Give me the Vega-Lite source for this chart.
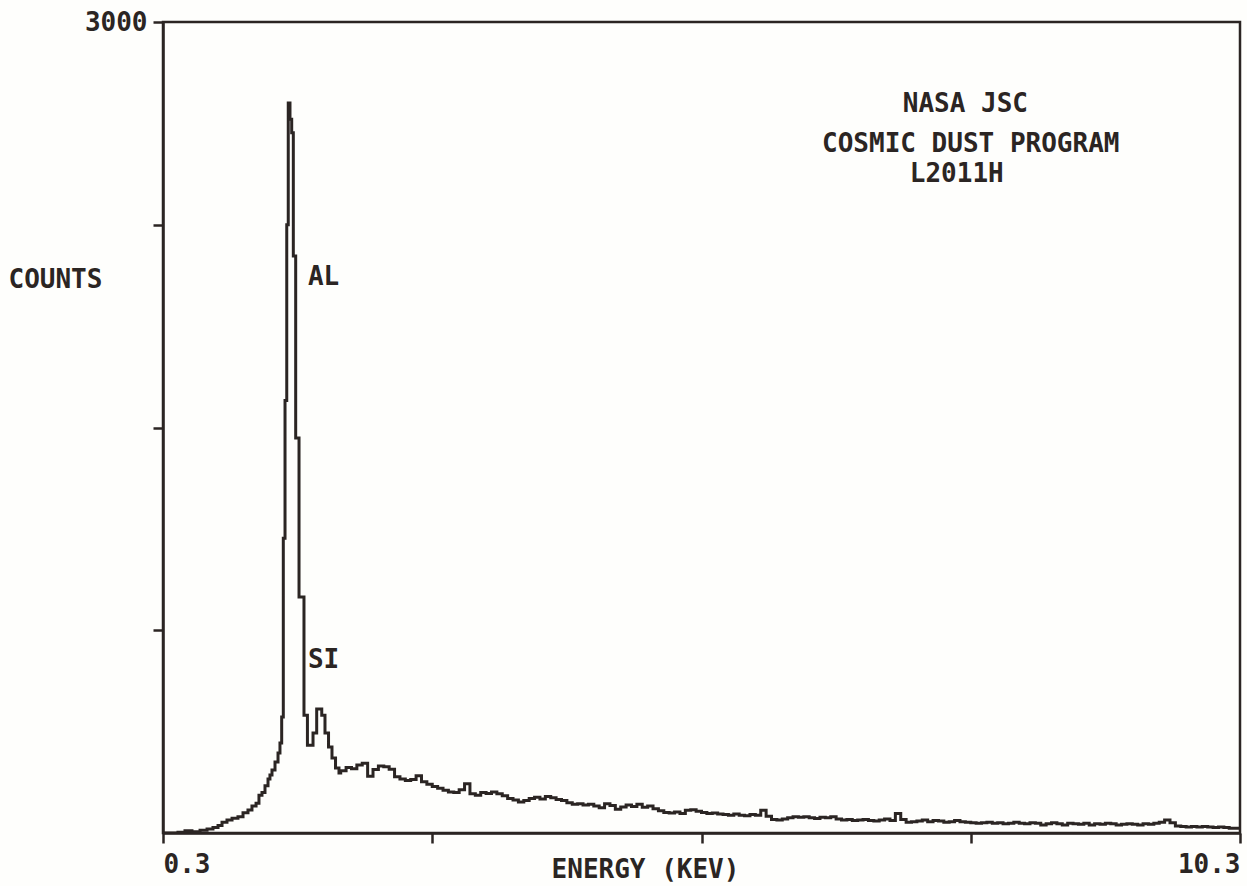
{
  "$schema": "https://vega.github.io/schema/vega-lite/v6.json",
  "width": 1077,
  "height": 811,
  "autosize": {"type": "none"},
  "padding": {"left": 163, "top": 22, "right": 7, "bottom": 53},
  "background": "#fefefc",
  "config": {
    "view": {"stroke": "#2b2523", "strokeWidth": 2.5},
    "font": "DejaVu Sans Mono",
    "axis": {
      "domainColor": "#2b2523",
      "domainWidth": 2.5,
      "tickColor": "#2b2523",
      "tickWidth": 2.5,
      "tickSize": 10,
      "grid": false,
      "labelFont": "DejaVu Sans Mono",
      "labelFontSize": 26,
      "labelFontWeight": "bold",
      "labelColor": "#2b2523",
      "titleFont": "DejaVu Sans Mono",
      "titleFontSize": 26,
      "titleFontWeight": "bold",
      "titleColor": "#2b2523"
    }
  },
  "datasets": {
    "spectrum": [
      {"energy": 0.300, "counts": 0},
      {"energy": 0.365, "counts": 0},
      {"energy": 0.439, "counts": 3},
      {"energy": 0.504, "counts": 8},
      {"energy": 0.569, "counts": 5},
      {"energy": 0.644, "counts": 10},
      {"energy": 0.709, "counts": 15},
      {"energy": 0.764, "counts": 20},
      {"energy": 0.811, "counts": 28},
      {"energy": 0.848, "counts": 40},
      {"energy": 0.894, "counts": 48},
      {"energy": 0.941, "counts": 55},
      {"energy": 0.996, "counts": 60},
      {"energy": 1.043, "counts": 75},
      {"energy": 1.089, "counts": 85},
      {"energy": 1.126, "counts": 100},
      {"energy": 1.164, "counts": 110},
      {"energy": 1.191, "counts": 140},
      {"energy": 1.219, "counts": 150},
      {"energy": 1.247, "counts": 175},
      {"energy": 1.275, "counts": 200},
      {"energy": 1.293, "counts": 215},
      {"energy": 1.312, "counts": 233},
      {"energy": 1.340, "counts": 263},
      {"energy": 1.368, "counts": 296},
      {"energy": 1.386, "counts": 333},
      {"energy": 1.402, "counts": 429},
      {"energy": 1.417, "counts": 1090},
      {"energy": 1.433, "counts": 1600},
      {"energy": 1.449, "counts": 2250},
      {"energy": 1.463, "counts": 2700},
      {"energy": 1.479, "counts": 2640},
      {"energy": 1.495, "counts": 2590},
      {"energy": 1.510, "counts": 2134},
      {"energy": 1.532, "counts": 1461},
      {"energy": 1.563, "counts": 873},
      {"energy": 1.609, "counts": 436},
      {"energy": 1.641, "counts": 325},
      {"energy": 1.693, "counts": 370},
      {"energy": 1.727, "counts": 459},
      {"energy": 1.774, "counts": 436},
      {"energy": 1.804, "counts": 370},
      {"energy": 1.837, "counts": 318},
      {"energy": 1.869, "counts": 277},
      {"energy": 1.902, "counts": 240},
      {"energy": 1.934, "counts": 222},
      {"energy": 1.95, "counts": 230},
      {"energy": 2.00, "counts": 242},
      {"energy": 2.05, "counts": 238},
      {"energy": 2.10, "counts": 252},
      {"energy": 2.15, "counts": 258},
      {"energy": 2.20, "counts": 210},
      {"energy": 2.25, "counts": 235},
      {"energy": 2.30, "counts": 248},
      {"energy": 2.35, "counts": 245},
      {"energy": 2.40, "counts": 236},
      {"energy": 2.45, "counts": 208},
      {"energy": 2.50, "counts": 200},
      {"energy": 2.55, "counts": 194},
      {"energy": 2.60, "counts": 198},
      {"energy": 2.65, "counts": 212},
      {"energy": 2.70, "counts": 190},
      {"energy": 2.75, "counts": 180},
      {"energy": 2.80, "counts": 172},
      {"energy": 2.85, "counts": 166},
      {"energy": 2.90, "counts": 158},
      {"energy": 2.95, "counts": 152},
      {"energy": 3.00, "counts": 150},
      {"energy": 3.05, "counts": 160},
      {"energy": 3.10, "counts": 182},
      {"energy": 3.15, "counts": 145},
      {"energy": 3.20, "counts": 140},
      {"energy": 3.25, "counts": 150},
      {"energy": 3.30, "counts": 146},
      {"energy": 3.35, "counts": 152},
      {"energy": 3.40, "counts": 145},
      {"energy": 3.45, "counts": 138},
      {"energy": 3.50, "counts": 128},
      {"energy": 3.55, "counts": 122},
      {"energy": 3.60, "counts": 115},
      {"energy": 3.65, "counts": 120},
      {"energy": 3.70, "counts": 128},
      {"energy": 3.75, "counts": 132},
      {"energy": 3.80, "counts": 126},
      {"energy": 3.85, "counts": 135},
      {"energy": 3.90, "counts": 130},
      {"energy": 3.95, "counts": 124},
      {"energy": 4.00, "counts": 120},
      {"energy": 4.05, "counts": 112},
      {"energy": 4.10, "counts": 106},
      {"energy": 4.15, "counts": 108},
      {"energy": 4.20, "counts": 104},
      {"energy": 4.25, "counts": 106},
      {"energy": 4.30, "counts": 100},
      {"energy": 4.35, "counts": 93},
      {"energy": 4.40, "counts": 108},
      {"energy": 4.45, "counts": 102},
      {"energy": 4.50, "counts": 88},
      {"energy": 4.55, "counts": 96},
      {"energy": 4.60, "counts": 104},
      {"energy": 4.65, "counts": 98},
      {"energy": 4.70, "counts": 106},
      {"energy": 4.75, "counts": 95},
      {"energy": 4.80, "counts": 100},
      {"energy": 4.85, "counts": 90},
      {"energy": 4.90, "counts": 82},
      {"energy": 4.95, "counts": 76},
      {"energy": 5.00, "counts": 74},
      {"energy": 5.05, "counts": 78},
      {"energy": 5.10, "counts": 72},
      {"energy": 5.15, "counts": 84},
      {"energy": 5.20, "counts": 86},
      {"energy": 5.25, "counts": 80},
      {"energy": 5.30, "counts": 76},
      {"energy": 5.35, "counts": 72},
      {"energy": 5.40, "counts": 74},
      {"energy": 5.45, "counts": 70},
      {"energy": 5.50, "counts": 68},
      {"energy": 5.55, "counts": 66},
      {"energy": 5.60, "counts": 70},
      {"energy": 5.65, "counts": 66},
      {"energy": 5.70, "counts": 64},
      {"energy": 5.75, "counts": 68},
      {"energy": 5.80, "counts": 66},
      {"energy": 5.85, "counts": 84},
      {"energy": 5.90, "counts": 62},
      {"energy": 5.95, "counts": 50},
      {"energy": 6.00, "counts": 48},
      {"energy": 6.05, "counts": 52},
      {"energy": 6.10, "counts": 56},
      {"energy": 6.15, "counts": 60},
      {"energy": 6.20, "counts": 58},
      {"energy": 6.25, "counts": 60},
      {"energy": 6.30, "counts": 56},
      {"energy": 6.35, "counts": 54},
      {"energy": 6.40, "counts": 58},
      {"energy": 6.45, "counts": 56},
      {"energy": 6.50, "counts": 60},
      {"energy": 6.55, "counts": 52},
      {"energy": 6.60, "counts": 48},
      {"energy": 6.65, "counts": 50},
      {"energy": 6.70, "counts": 46},
      {"energy": 6.75, "counts": 48},
      {"energy": 6.80, "counts": 50},
      {"energy": 6.85, "counts": 46},
      {"energy": 6.90, "counts": 44},
      {"energy": 6.95, "counts": 48},
      {"energy": 7.00, "counts": 52},
      {"energy": 7.05, "counts": 46},
      {"energy": 7.10, "counts": 72},
      {"energy": 7.15, "counts": 50},
      {"energy": 7.20, "counts": 40},
      {"energy": 7.25, "counts": 42},
      {"energy": 7.30, "counts": 44},
      {"energy": 7.35, "counts": 48},
      {"energy": 7.40, "counts": 42},
      {"energy": 7.45, "counts": 46},
      {"energy": 7.50, "counts": 44},
      {"energy": 7.55, "counts": 40},
      {"energy": 7.60, "counts": 42},
      {"energy": 7.65, "counts": 46},
      {"energy": 7.70, "counts": 42},
      {"energy": 7.75, "counts": 40},
      {"energy": 7.80, "counts": 38},
      {"energy": 7.85, "counts": 36},
      {"energy": 7.90, "counts": 38},
      {"energy": 7.95, "counts": 40},
      {"energy": 8.00, "counts": 36},
      {"energy": 8.05, "counts": 38},
      {"energy": 8.10, "counts": 34},
      {"energy": 8.15, "counts": 36},
      {"energy": 8.20, "counts": 40},
      {"energy": 8.25, "counts": 36},
      {"energy": 8.30, "counts": 34},
      {"energy": 8.35, "counts": 38},
      {"energy": 8.40, "counts": 36},
      {"energy": 8.45, "counts": 30},
      {"energy": 8.50, "counts": 34},
      {"energy": 8.55, "counts": 38},
      {"energy": 8.60, "counts": 34},
      {"energy": 8.65, "counts": 30},
      {"energy": 8.70, "counts": 36},
      {"energy": 8.75, "counts": 34},
      {"energy": 8.80, "counts": 32},
      {"energy": 8.85, "counts": 36},
      {"energy": 8.90, "counts": 30},
      {"energy": 8.95, "counts": 34},
      {"energy": 9.00, "counts": 32},
      {"energy": 9.05, "counts": 36},
      {"energy": 9.10, "counts": 34},
      {"energy": 9.15, "counts": 30},
      {"energy": 9.20, "counts": 32},
      {"energy": 9.25, "counts": 34},
      {"energy": 9.30, "counts": 32},
      {"energy": 9.35, "counts": 30},
      {"energy": 9.40, "counts": 34},
      {"energy": 9.45, "counts": 32},
      {"energy": 9.50, "counts": 36},
      {"energy": 9.55, "counts": 40},
      {"energy": 9.60, "counts": 48},
      {"energy": 9.65, "counts": 38},
      {"energy": 9.70, "counts": 26},
      {"energy": 9.75, "counts": 24},
      {"energy": 9.80, "counts": 22},
      {"energy": 9.85, "counts": 24},
      {"energy": 9.90, "counts": 22},
      {"energy": 9.95, "counts": 24},
      {"energy": 10.00, "counts": 22},
      {"energy": 10.05, "counts": 20},
      {"energy": 10.10, "counts": 22},
      {"energy": 10.15, "counts": 20},
      {"energy": 10.20, "counts": 18},
      {"energy": 10.25, "counts": 18},
      {"energy": 10.30, "counts": 18}
    ],
    "peaks": [
      {"energy": 1.646, "counts": 2057, "label": "AL"},
      {"energy": 1.646, "counts": 640, "label": "SI"}
    ],
    "caption": [
      {"energy": 7.75, "counts": 2697, "label": "NASA JSC"},
      {"energy": 7.80, "counts": 2549, "label": "COSMIC DUST PROGRAM"},
      {"energy": 7.67, "counts": 2438, "label": "L2011H"}
    ]
  },
  "layer": [
    {
      "data": {"name": "spectrum"},
      "mark": {"type": "line", "interpolate": "step-after", "color": "#2b2523", "strokeWidth": 3, "clip": true},
      "encoding": {
        "x": {
          "field": "energy", "type": "quantitative",
          "scale": {"domain": [0.3, 10.3], "nice": false, "zero": false},
          "axis": {
            "values": [0.3, 2.8, 5.3, 7.8, 10.3],
            "labelExpr": "datum.value == 0.3 || datum.value == 10.3 ? format(datum.value, '.1f') : ''",
            "labelFlush": true,
            "labelPadding": 8,
            "title": "ENERGY (KEV)",
            "titleX": 482,
            "titleY": 44,
            "titleBaseline": "alphabetic",
            "titleAnchor": "middle",
            "titleAlign": "center"
          }
        },
        "y": {
          "field": "counts", "type": "quantitative",
          "scale": {"domain": [0, 3000], "nice": false},
          "axis": {
            "values": [750, 1500, 2250, 3000],
            "labelExpr": "datum.value == 3000 ? '3000' : ''",
            "labelPadding": 6,
            "labelBaseline": "middle",
            "title": "COUNTS",
            "titleAngle": 0,
            "titleX": -155,
            "titleY": 257,
            "titleAlign": "left",
            "titleBaseline": "middle"
          }
        }
      }
    },
    {
      "data": {"name": "peaks"},
      "mark": {"type": "text", "align": "left", "baseline": "middle", "font": "DejaVu Sans Mono", "fontSize": 26, "fontWeight": "bold", "color": "#2b2523"},
      "encoding": {
        "x": {"field": "energy", "type": "quantitative"},
        "y": {"field": "counts", "type": "quantitative"},
        "text": {"field": "label"}
      }
    },
    {
      "data": {"name": "caption"},
      "mark": {"type": "text", "align": "center", "baseline": "middle", "font": "DejaVu Sans Mono", "fontSize": 26, "fontWeight": "bold", "color": "#2b2523"},
      "encoding": {
        "x": {"field": "energy", "type": "quantitative"},
        "y": {"field": "counts", "type": "quantitative"},
        "text": {"field": "label"}
      }
    }
  ]
}
